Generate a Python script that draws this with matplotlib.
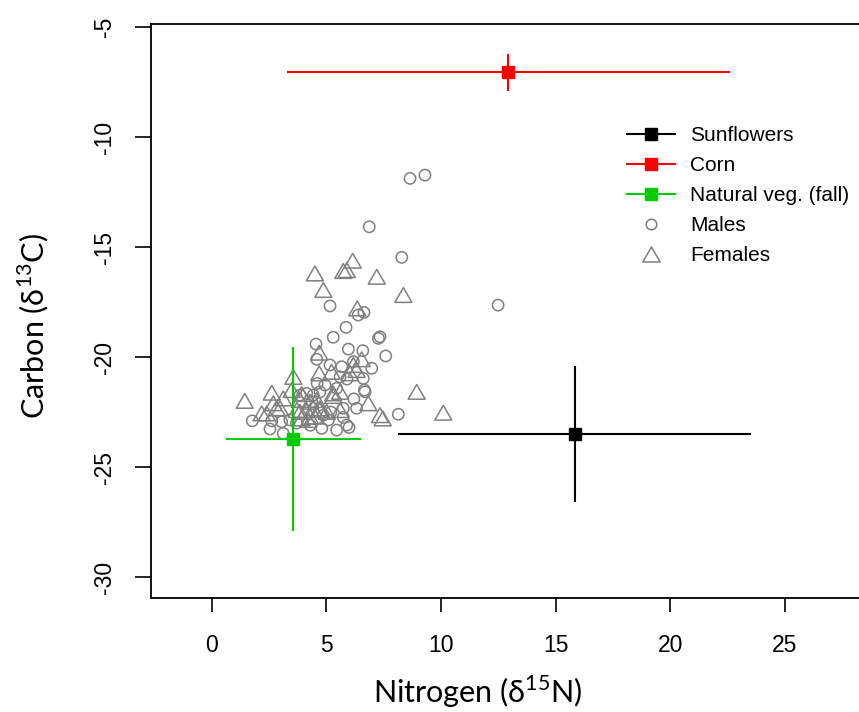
import matplotlib
matplotlib.use("Agg")
import matplotlib.pyplot as plt
from matplotlib.lines import Line2D
from matplotlib.path import Path
import numpy as np

# ---- data ----
males_n = [8.65, 9.30, 6.87, 8.29, 5.16, 6.39, 6.64, 5.86, 7.34, 7.27, 5.30, 4.55, 5.96, 6.59, 7.59,
           4.58, 5.16, 5.67, 6.18, 6.98, 6.61, 5.60, 4.94, 6.66, 6.69, 4.72, 4.43, 5.45, 6.32, 8.14,
           5.74, 1.77, 2.54, 3.12, 3.05, 4.80, 5.89, 5.99, 3.85, 5.09, 5.45, 2.62, 4.87, 5.74, 3.41,
           12.49, 4.14, 4.36, 3.70, 4.30, 5.90, 6.20, 5.20, 4.60]
males_c = [-11.88, -11.73, -14.08, -15.47, -17.68, -18.09, -17.97, -18.65, -19.08, -19.15, -19.10,
           -19.41, -19.64, -19.71, -19.95, -20.10, -20.36, -20.44, -20.21, -20.51, -20.97, -20.90,
           -21.27, -21.50, -21.58, -21.58, -21.73, -21.42, -22.33, -22.60, -22.33, -22.90, -23.27,
           -23.47, -22.94, -23.24, -23.09, -23.20, -21.73, -22.86, -23.32, -22.90, -22.64, -22.74,
           -22.86, -17.64, -21.65, -22.03, -23.00, -23.10, -21.00, -21.90, -22.50, -21.20]

females_n = [6.15, 4.50, 5.74, 5.89, 7.20, 4.87, 8.36, 6.35, 4.69, 4.69, 5.23, 6.18, 6.32, 6.03, 6.54,
             3.56, 2.62, 3.12, 1.44, 3.92, 5.30, 5.60, 6.83, 8.94, 2.18, 2.83, 2.69, 7.34, 7.46, 3.85,
             4.14, 4.43, 4.72, 5.02, 4.29, 4.58, 3.92, 4.21, 4.50, 5.60, 10.10, 3.49, 3.85, 3.71, 4.29,
             4.72, 5.30, 2.98, 2.40]
females_c = [-15.62, -16.20, -16.09, -16.05, -16.35, -16.95, -17.18, -17.79, -19.80, -20.74, -20.67,
             -20.36, -20.59, -20.74, -20.10, -20.90, -21.62, -21.88, -21.99, -21.68, -21.77, -21.58,
             -22.10, -21.58, -22.56, -22.33, -22.10, -22.64, -22.79, -22.49, -22.41, -22.33, -22.41,
             -22.49, -22.03, -21.95, -22.79, -22.86, -22.71, -22.41, -22.53, -21.50, -21.95, -22.41,
             -22.71, -22.33, -21.65, -22.33, -22.56]

sources = ["Sunflowers", "Corn", "Natural veg. (fall)"]
src_n = [15.83, 12.94, 3.56]
src_c = [-23.50, -7.06, -23.73]
src_n_err = [7.70, 9.65, 2.93]
src_c_err = [3.10, 0.84, 4.17]
src_colors = ["#000000", "#FF0000", "#00CC00"]

xticks = [0, 5, 10, 15, 20, 25]
yticks = [-30, -25, -20, -15, -10, -5]

# ---- figure ----
W, H = 859, 712
fig = plt.figure(figsize=(W / 100, H / 100), dpi=100)
ax = fig.add_axes([151 / W, 1 - 598 / H, 1 - 151 / W, (598 - 24) / H])
ax.set_xlim(-2.647, 28.23)
ax.set_ylim(-30.95, -4.864)

gray = "#808080"
tri = Path([(-1, -0.866), (1, -0.866), (0, 0.866), (-1, -0.866)],
           [Path.MOVETO, Path.LINETO, Path.LINETO, Path.CLOSEPOLY])
ax.scatter(males_n, males_c, s=66, facecolors="none", edgecolors=gray, linewidths=1.1, marker="o", zorder=2)
ax.scatter(females_n, females_c, s=150, facecolors="none", edgecolors=gray, linewidths=1.1, marker=tri, zorder=2)

for n, c, ne, ce, col in zip(src_n, src_c, src_n_err, src_c_err, src_colors):
    ax.errorbar(n, c, xerr=ne, yerr=ce, fmt="s", color=col, ms=8.6, elinewidth=1.5,
                capsize=0, zorder=3)

ax.spines["right"].set_visible(False)
for s in ["left", "bottom", "top"]:
    ax.spines[s].set_linewidth(1.3)

tickfont = {"family": ["Liberation Sans", "DejaVu Sans"], "size": 16.5}
ax.set_xticks(xticks)
ax.set_yticks(yticks)
ax.set_xticklabels([str(v) for v in xticks], fontdict=tickfont)
ax.set_yticklabels([str(v) for v in yticks], fontdict=tickfont, rotation=90, va="center")
ax.tick_params(axis="x", length=10, width=1.2, pad=16)
ax.tick_params(axis="y", length=11.5, width=1.2, pad=14)

lab_font = ["Lato", "DejaVu Sans"]
fig.text(478 / W, 1 - 692 / H, "Nitrogen (δ$^{\\mathregular{15}}$N)", family=lab_font, size=22,
         ha="center", va="center")
fig.text(33 / W, 1 - 326 / H, "Carbon (δ$^{\\mathregular{13}}$C)", family=lab_font, size=22,
         ha="center", va="center", rotation=90)

handles = [Line2D([], [], color=col, marker="s", ms=9, lw=1.5) for col in src_colors]
handles.append(Line2D([], [], ls="none", marker="o", ms=7.6, mfc="none", mec=gray, mew=1.1))
handles.append(Line2D([], [], ls="none", marker=tri, ms=12.5, mfc="none", mec=gray, mew=1.1))
labels = sources + ["Males", "Females"]
leg = ax.legend(handles, labels, loc="upper left", bbox_to_anchor=(627 / W, 1 - 126 / H),
                bbox_transform=fig.transFigure, frameon=False, borderpad=0, borderaxespad=0,
                handlelength=2.3, handletextpad=0.72, labelspacing=0.53,
                prop={"family": ["Liberation Sans", "DejaVu Sans"], "size": 15})

fig.savefig("out.png", dpi=100)
